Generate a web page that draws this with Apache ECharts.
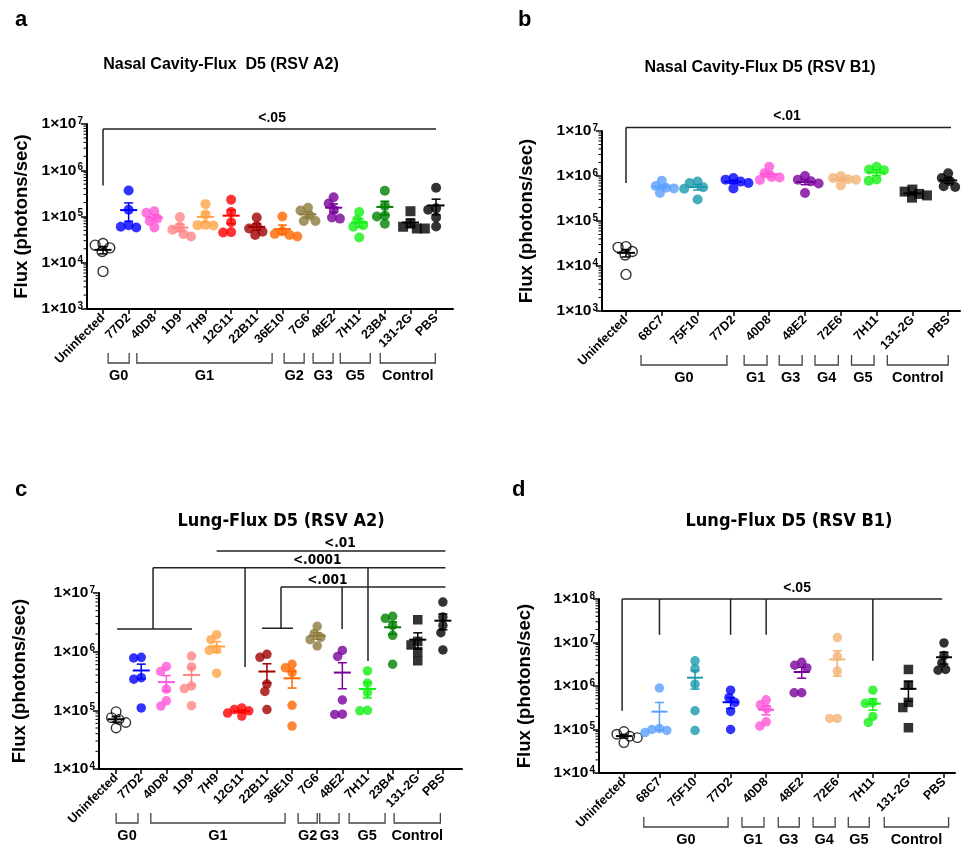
<!DOCTYPE html>
<html><head><meta charset="utf-8">
<script src="https://cdn.jsdelivr.net/npm/echarts@6/dist/echarts.min.js"></script>
<style>html,body{margin:0;padding:0;background:#fff}#c{width:961px;height:849px}</style>
</head><body><div id="c"></div>
<script>
// ---------------- DATA ----------------
const catsA = ['Uninfected','77D2','40D8','1D9','7H9','12G11','22B11','36E10','7G6','48E2','7H11','23B4','131-2G','PBS'];
const valsA = [
  [26000, 24000, 21000, 17500, 6500],
  [365000, 140000, 65000, 60000, 58000],
  [130000, 120000, 90000, 80000, 58000],
  [97000, 60000, 52000, 42000, 37000],
  [185000, 110000, 66000, 65000, 64000],
  [230000, 125000, 75000, 46000, 45000],
  [95000, 62000, 55000, 47000, 40000],
  [100000, 48000, 42000, 40000, 37000],
  [155000, 135000, 105000, 80000, 80000],
  [260000, 190000, 140000, 95000, 90000],
  [125000, 85000, 65000, 60000, 35000],
  [360000, 170000, 105000, 100000, 70000],
  [130000, 70000, 60000, 55000, 55000],
  [420000, 150000, 140000, 95000, 61000]
];
const groupsA = [['G0',0.2,1.02],['G1',1.32,6.6],['G2',7.07,7.85],['G3',8.2,8.98],['G5',9.26,10.43],['Control',10.82,12.97]];
const sigLinesA = [[0,4.7e5,0,7.8e6],[0,7.8e6,13,7.8e6]];
const sigTextA = [['<.05',6.6,7.8e6]];

const catsB = ['Uninfected','68C7','75F10','77D2','40D8','48E2','72E6','7H11','131-2G','PBS'];
const valsB = [
  [27000, 26000, 21000, 17500, 6500],
  [780000, 600000, 550000, 530000, 420000],
  [750000, 700000, 560000, 520000, 300000],
  [900000, 830000, 750000, 700000, 530000],
  [1600000, 1150000, 950000, 930000, 820000],
  [1000000, 830000, 760000, 680000, 420000],
  [1000000, 900000, 850000, 830000, 620000],
  [1600000, 1400000, 1350000, 840000, 780000],
  [500000, 450000, 400000, 370000, 330000],
  [1150000, 900000, 770000, 590000, 570000]
];
const groupsB = [['G0',0.42,2.82],['G1',3.3,3.94],['G3',4.28,4.92],['G4',5.28,5.93],['G5',6.3,6.93],['Control',7.3,9.0]];
const sigLinesB = [[0,7e5,0,1.2e7],[0,1.2e7,9.08,1.2e7]];
const sigTextB = [['<.01',4.5,1.2e7]];

const catsC = ['Uninfected','77D2','40D8','1D9','7H9','12G11','22B11','36E10','7G6','48E2','7H11','23B4','131-2G','PBS'];
const valsC = [
  [95000, 75000, 70000, 62000, 50000],
  [800000, 780000, 360000, 340000, 110000],
  [560000, 460000, 230000, 145000, 118000],
  [840000, 550000, 260000, 235000, 120000],
  [1950000, 1600000, 1100000, 1050000, 430000],
  [110000, 103000, 98000, 90000, 80000],
  [900000, 800000, 280000, 210000, 103000],
  [610000, 530000, 440000, 122000, 54000],
  [2700000, 2050000, 1750000, 1600000, 1250000],
  [1050000, 830000, 150000, 86000, 85000],
  [470000, 290000, 200000, 100000, 98000],
  [4000000, 3700000, 2800000, 1900000, 610000],
  [3500000, 1500000, 1300000, 1000000, 700000],
  [7000000, 3900000, 2800000, 2100000, 1070000]
];
const groupsC = [['G0',0,0.87],['G1',1.38,6.72],['G2',7.24,8.0],['G3',8.1,8.87],['G5',9.27,10.7],['Control',11.06,12.9]];
const sigLinesC = [
  [4.0,5.2e7,13.1,5.2e7],
  [1.47,2.7e7,13.1,2.7e7],[1.47,2.7e7,1.47,2.44e6],[0.04,2.44e6,3.02,2.44e6],
  [5.13,2.7e7,5.13,5.5e5],[10.02,2.7e7,10.02,6.9e5],
  [6.56,1.26e7,13.1,1.26e7],[6.56,1.26e7,6.56,2.5e6],[5.8,2.5e6,7.04,2.5e6],[8.99,1.26e7,8.99,2.44e6]
];
const sigTextC = [['<.01',8.9,5.2e7],['<.0001',8.0,2.7e7],['<.001',8.4,1.26e7]];

const catsD = ['Uninfected','68C7','75F10','77D2','40D8','48E2','72E6','7H11','131-2G','PBS'];
const valsD = [
  [90000, 78000, 70000, 65000, 50000],
  [900000, 105000, 100000, 95000, 85000],
  [3800000, 2500000, 1100000, 270000, 95000],
  [800000, 540000, 420000, 260000, 100000],
  [480000, 370000, 300000, 150000, 120000],
  [3500000, 3000000, 2600000, 700000, 700000],
  [13000000, 4800000, 2200000, 180000, 180000],
  [800000, 420000, 400000, 200000, 145000],
  [2400000, 1050000, 420000, 320000, 110000],
  [9800000, 5000000, 3400000, 2400000, 2300000]
];
const groupsD = [['G0',0.56,2.93],['G1',3.32,3.94],['G3',4.34,4.93],['G4',5.32,5.94],['G5',6.31,6.9],['Control',7.32,9.13]];
const sigLinesD = [[-0.05,1e8,8.95,1e8],[-0.05,1e8,-0.05,2.7e5],[1,1e8,1,1.5e7],[3,1e8,3,1.5e7],[4,1e8,4,1.5e7],[7,1e8,7,3.8e6]];
const sigTextD = [['<.05',4.87,1e8]];

const titles = ['Nasal Cavity-Flux  D5 (RSV A2)','Nasal Cavity-Flux D5 (RSV B1)','Lung-Flux D5 (RSV A2)','Lung-Flux D5 (RSV B1)'];
const letters = ['a','b','c','d'];
const yName = 'Flux (photons/sec)';

// ---------------- STYLE / LAYOUT ----------------
const COLORS = {'Uninfected':'#000000','77D2':'#0000FF','40D8':'#FF55D8','1D9':'#FF8585','7H9':'#FFA345',
  '12G11':'#FF0000','22B11':'#A00000','36E10':'#FF6600','7G6':'#8C7B3C','48E2':'#78009A','7H11':'#14F014',
  '23B4':'#007F00','131-2G':'#000000','PBS':'#000000','68C7':'#5AA0FF','75F10':'#1A9AAE','72E6':'#F2B478'};
const F = '"Liberation Sans", Arial, sans-serif';
const FN = '"Liberation Sans Narrow", "DejaVu Sans Condensed", "Liberation Sans", sans-serif';

const P = [
  {cats:catsA, vals:valsA, groups:groupsA, sigL:sigLinesA, sigT:sigTextA,
   grid:{left:87,top:124,width:366,height:185}, xMin:-0.625, xMax:13.66, yMin:1e3, yMax:1e7,
   dot:10, hw:8.5, cap:4.5, nameGap:56, title:[221,65], tfont:'bold 16px '+F, letter:[15,9],
   sfont:'bold 14px '+F, sgap:4},
  {cats:catsB, vals:valsB, groups:groupsB, sigL:sigLinesB, sigT:sigTextB,
   grid:{left:602,top:131,width:358,height:180}, xMin:-0.67, xMax:9.33, yMin:1e3, yMax:1e7,
   dot:10, hw:9, cap:4.5, nameGap:66, title:[760,68], tfont:'bold 16px '+F, letter:[518,9],
   sfont:'bold 14px '+F, sgap:4},
  {cats:catsC, vals:valsC, groups:groupsC, sigL:sigLinesC, sigT:sigTextC,
   grid:{left:99,top:593,width:363,height:176}, xMin:-0.68, xMax:13.76, yMin:1e4, yMax:1e7,
   dot:9.5, hw:8.5, cap:4.5, nameGap:70, title:[281,521], tfont:'bold 18px '+FN, letter:[15,479],
   sfont:'bold 13.5px '+FN, sgap:0},
  {cats:catsD, vals:valsD, groups:groupsD, sigL:sigLinesD, sigT:sigTextD,
   grid:{left:599,top:599,width:356,height:174}, xMin:-0.70, xMax:9.31, yMin:1e4, yMax:1e8,
   dot:9.5, hw:8, cap:4.5, nameGap:65, title:[789,521], tfont:'bold 18px '+FN, letter:[512,479],
   sfont:'bold 14px '+F, sgap:4}
];

function swarm(values, pxDec, D) {
  const order = values.map((v,i)=>i).sort((a,b)=>values[b]-values[a]);
  const placed = [], off = new Array(values.length);
  for (const i of order) {
    const y = Math.log10(values[i]) * pxDec;
    const cands = [0];
    for (const p of placed) {
      const dy = Math.abs(p.y - y);
      if (dy < D) { const dx = Math.sqrt(D*D - dy*dy); cands.push(p.x + dx, p.x - dx); }
    }
    cands.sort((a,b)=>Math.abs(a)-Math.abs(b) || a-b);
    let chosen = 0;
    for (const c of cands) {
      if (placed.every(p => Math.hypot(p.x - c, p.y - y) >= D - 1e-6)) { chosen = c; break; }
    }
    placed.push({x:chosen, y}); off[i] = chosen;
  }
  return off;
}

const option = {animation:false, backgroundColor:'#ffffff', grid:[], xAxis:[], yAxis:[], series:[], graphic:[]};

P.forEach((p, pi) => {
  option.grid.push(Object.assign({containLabel:false}, p.grid));
  const idx = p.cats.map((_, i) => i);
  option.xAxis.push({
    type:'value', gridIndex:pi, min:p.xMin, max:p.xMax,
    axisLine:{show:true, onZero:false, lineStyle:{color:'#000', width:2}},
    axisTick:{show:true, length:5, customValues:idx, lineStyle:{color:'#000', width:1.5}},
    axisLabel:{show:true, customValues:idx, rotate:45, margin:7, color:'#000', fontSize:12.5, fontWeight:'bold', fontFamily:F,
      formatter:(v)=>p.cats[Math.round(v)]},
    splitLine:{show:false}
  });
  const decades = [];
  for (let e = Math.round(Math.log10(p.yMin)); e <= Math.round(Math.log10(p.yMax)); e++) decades.push(Math.pow(10, e));
  option.yAxis.push({
    type:'log', logBase:10, gridIndex:pi, min:p.yMin, max:p.yMax,
    axisLine:{show:true, onZero:false, lineStyle:{color:'#000', width:2}},
    axisTick:{show:true, length:6, customValues:decades, lineStyle:{color:'#000', width:1.5}},
    axisLabel:{show:true, customValues:decades, margin:4, color:'#000',
      formatter:(v)=>'{m|1×10}{e|' + Math.round(Math.log10(v)) + '}',
      rich:{m:{fontSize:15.5, fontWeight:'bold', fontFamily:F, color:'#000', verticalAlign:'bottom'},
            e:{fontSize:10, fontWeight:'bold', fontFamily:F, color:'#000', verticalAlign:'top', padding:[0,0,0,1]}}},
    splitLine:{show:false},
    name:yName, nameLocation:'middle', nameGap:p.nameGap,
    nameTextStyle:{fontSize:18.5, fontWeight:'bold', fontFamily:F, color:'#000'}
  });

  // minor ticks (2..9 x 10^n)
  const minors = [];
  decades.slice(0, -1).forEach(d => { for (let k = 2; k <= 9; k++) minors.push([p.xMin, d * k]); });
  option.series.push({type:'custom', xAxisIndex:pi, yAxisIndex:pi, silent:true, z:1, data:minors,
    renderItem:(params, api) => { const pt = api.coord([api.value(0), api.value(1)]);
      return {type:'line', shape:{x1:pt[0]-3.5, y1:pt[1], x2:pt[0], y2:pt[1]}, style:{stroke:'#000', lineWidth:1}}; }});

  // points
  const pxX = p.grid.width / (p.xMax - p.xMin);
  const pxDec = p.grid.height / Math.log10(p.yMax / p.yMin);
  const pts = [];
  p.vals.forEach((vs, ci) => {
    const offs = swarm(vs, pxDec, p.dot * 0.8);
    const name = p.cats[ci];
    vs.forEach((v, k) => {
      const item = {value:[ci + offs[k] / pxX, v]};
      if (name === 'Uninfected') item.itemStyle = {color:'rgba(0,0,0,0)', borderColor:'#000', borderWidth:1.4};
      else item.itemStyle = {color:COLORS[name]};
      if (name === '131-2G') item.symbol = 'rect';
      pts.push(item);
    });
  });
  option.series.push({type:'scatter', xAxisIndex:pi, yAxisIndex:pi, symbol:'circle', symbolSize:p.dot, data:pts, z:2, silent:true});

  // mean ± SEM
  const stats = p.vals.map((vs, ci) => {
    const n = vs.length, m = vs.reduce((a,b)=>a+b,0)/n;
    const sd = Math.sqrt(vs.reduce((a,b)=>a+(b-m)*(b-m),0)/(n-1)), se = sd/Math.sqrt(n);
    return [ci, m, Math.max(m - se, p.yMin), m + se];
  });
  option.series.push({type:'custom', xAxisIndex:pi, yAxisIndex:pi, silent:true, z:3, data:stats,
    renderItem:(params, api) => {
      const ci = api.value(0), col = COLORS[p.cats[ci]];
      const pm = api.coord([ci, api.value(1)]), pl = api.coord([ci, api.value(2)]), ph = api.coord([ci, api.value(3)]);
      const st = {stroke:col, lineWidth:2};
      return {type:'group', children:[
        {type:'line', shape:{x1:pm[0]-p.hw, y1:pm[1], x2:pm[0]+p.hw, y2:pm[1]}, style:st},
        {type:'line', shape:{x1:pl[0], y1:pl[1], x2:ph[0], y2:ph[1]}, style:{stroke:col, lineWidth:1.5}},
        {type:'line', shape:{x1:ph[0]-p.cap, y1:ph[1], x2:ph[0]+p.cap, y2:ph[1]}, style:{stroke:col, lineWidth:1.5}},
        {type:'line', shape:{x1:pl[0]-p.cap, y1:pl[1], x2:pl[0]+p.cap, y2:pl[1]}, style:{stroke:col, lineWidth:1.5}}
      ]};
    }});

  // significance lines
  option.series.push({type:'custom', xAxisIndex:pi, yAxisIndex:pi, silent:true, z:4, clip:false, data:p.sigL,
    renderItem:(params, api) => {
      const a = api.coord([api.value(0), api.value(1)]), b = api.coord([api.value(2), api.value(3)]);
      return {type:'line', shape:{x1:a[0], y1:a[1], x2:b[0], y2:b[1]}, style:{stroke:'#222', lineWidth:1.5}};
    }});
  option.series.push({type:'custom', xAxisIndex:pi, yAxisIndex:pi, silent:true, z:4, clip:false,
    data:p.sigT.map((t, i) => [t[1], t[2], i]),
    renderItem:(params, api) => {
      const pt = api.coord([api.value(0), api.value(1)]);
      return {type:'text', x:pt[0], y:pt[1] - p.sgap,
        style:{text:p.sigT[api.value(2)][0], font:p.sfont, fill:'#000', align:'center', verticalAlign:'bottom'}};
    }});

  // group brackets under axis
  option.series.push({type:'custom', xAxisIndex:pi, yAxisIndex:pi, silent:true, z:4, clip:false,
    data:p.groups.map((g, i) => [g[1], p.yMin, g[2], i]),
    renderItem:(params, api) => {
      const a = api.coord([api.value(0), api.value(1)]), b = api.coord([api.value(2), api.value(1)]);
      const base = a[1];
      return {type:'group', children:[
        {type:'polyline', shape:{points:[[a[0], base+44], [a[0], base+54], [b[0], base+54], [b[0], base+44]]},
          style:{stroke:'#444', lineWidth:1.3, fill:null}},
        {type:'text', x:(a[0]+b[0])/2, y:base+67,
          style:{text:p.groups[api.value(3)][0], font:'bold 14.5px '+F, fill:'#000', align:'center', verticalAlign:'middle'}}
      ]};
    }});

  option.graphic.push({type:'text', x:p.title[0], y:p.title[1],
    style:{text:titles[pi], font:p.tfont, fill:'#000', align:'center', verticalAlign:'middle'}});
  option.graphic.push({type:'text', x:p.letter[0], y:p.letter[1],
    style:{text:letters[pi], font:'bold 22px '+F, fill:'#000', align:'left', verticalAlign:'top'}});
});

const chart = echarts.init(document.getElementById('c'), null, {renderer:'canvas'});
chart.setOption(option);
</script>
</body></html>
